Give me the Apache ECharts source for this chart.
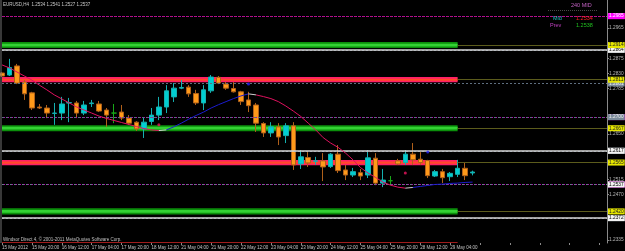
<!DOCTYPE html>
<html><head><meta charset="utf-8">
<script src="https://cdn.jsdelivr.net/npm/echarts@6/dist/echarts.min.js"></script>
<style>html,body{margin:0;padding:0;background:#000}#c{width:625px;height:251px}</style>
</head><body><div id="c"></div>
<script>
// ---- data ----
const xTickLabels = ['15 May 2012','15 May 20:00','16 May 12:00','17 May 04:00','17 May 20:00','18 May 12:00','21 May 04:00','21 May 20:00','22 May 12:00','23 May 04:00','23 May 20:00','24 May 12:00','25 May 04:00','25 May 20:00','28 May 12:00','29 May 04:00'];
const openP  = [1.2831,1.2825,1.2852,1.2804,1.2772,1.2730,1.2727,1.2711,1.2712,1.2742,1.2742,1.2712,1.2740,1.2739,1.2721,1.2712,1.2715,1.2697,1.2685,1.2665,1.2687,1.2706,1.2730,1.2760,1.2786,1.2789,1.2770,1.2742,1.2778,1.2818,1.2798,1.2785,1.2775,1.2751,1.2736,1.2681,1.2653,1.2671,1.2645,1.2674,1.2561,1.2580,1.2569,1.2570,1.2553,1.2590,1.2543,1.2528,1.2535,1.2528,1.2578,1.2504,1.2511,1.2570,1.2565,1.2590,1.2575,1.2571,1.2525,1.2538,1.2523,1.2530,1.2548,1.2534];
const closeP = [1.2822,1.2847,1.2801,1.2769,1.2727,1.2727,1.2712,1.2712,1.2739,1.2743,1.2712,1.2736,1.2742,1.2718,1.2706,1.2712,1.2697,1.2682,1.2665,1.2685,1.2706,1.2730,1.2778,1.2786,1.2788,1.2769,1.2742,1.2781,1.2819,1.2801,1.2786,1.2775,1.2746,1.2734,1.2682,1.2653,1.2671,1.2641,1.2674,1.2558,1.2582,1.2564,1.2570,1.2552,1.2590,1.2541,1.2528,1.2538,1.2525,1.2579,1.2504,1.2513,1.2511,1.2561,1.2590,1.2573,1.2565,1.2526,1.2538,1.2520,1.2533,1.2548,1.2526,1.2537];
const lowP   = [1.2819,1.2822,1.2798,1.2751,1.2721,1.2724,1.2697,1.2677,1.2691,1.2685,1.2697,1.2706,1.2730,1.2715,1.2671,1.2682,1.2691,1.2677,1.2659,1.2638,1.2677,1.2691,1.2712,1.2745,1.2783,1.2760,1.2736,1.2721,1.2772,1.2798,1.2781,1.2773,1.2736,1.2715,1.2656,1.2641,1.2641,1.2617,1.2623,1.2543,1.2546,1.2552,1.2558,1.2510,1.2549,1.2534,1.2513,1.2522,1.2513,1.2519,1.2498,1.2492,1.2498,1.2558,1.2558,1.2558,1.2558,1.2519,1.2522,1.2504,1.2510,1.2522,1.2513,1.2527];
const highP  = [1.2834,1.2873,1.2858,1.2810,1.2775,1.2739,1.2736,1.2742,1.2760,1.2757,1.2748,1.2748,1.2751,1.2748,1.2727,1.2739,1.2736,1.2706,1.2688,1.2700,1.2727,1.2760,1.2795,1.2801,1.2810,1.2795,1.2781,1.2795,1.2825,1.2822,1.2804,1.2804,1.2778,1.2775,1.2742,1.2685,1.2685,1.2682,1.2682,1.2685,1.2602,1.2596,1.2582,1.2593,1.2593,1.2617,1.2558,1.2549,1.2546,1.2602,1.2593,1.2546,1.2525,1.2576,1.2602,1.2623,1.2596,1.2573,1.2543,1.2546,1.2537,1.2573,1.2564,1.2541];
const trendLine = [1.2855,1.2846,1.2834,1.2822,1.2810,1.2795,1.2781,1.2766,1.2754,1.2742,1.2730,1.2721,1.2712,1.2703,1.2696,1.2690,1.2684,1.2678,1.2672,1.2666,1.2662,1.2660,1.2662,1.2671,1.2682,1.2694,1.2705,1.2715,1.2727,1.2737,1.2746,1.2755,1.2763,1.2769,1.2766,1.2761,1.2755,1.2746,1.2733,1.2718,1.2702,1.2682,1.2662,1.2639,1.2623,1.2610,1.2593,1.2573,1.2550,1.2534,1.2521,1.2507,1.2498,1.2492,1.2489,1.2491,1.2494,1.2497,1.2500,1.2501,1.2503,1.2504,1.2506,1.2507];
const trendSegments = [[0,21,'down'],[22,33,'up'],[34,54,'down'],[55,63,'up']];
const signalBars = [21,33,54,57];
const signalValues = [1.2677,1.2798,1.2534,1.2596];
const signalDirs = ['up','down','up','down'];
const yTickValues = [1.2335,1.2470,1.2515,1.2650,1.2785,1.2830,1.2875,1.2965];
const whiteLevels = [1.2864,1.2617,1.2372];
const magentaLevels = [1.2985,1.2739,1.2493];
const greyLevels = [1.2902,1.2801,1.2700,1.2599,1.2498,1.2397];
const redDottedLevels = [1.3003];
const bidLevel = 1.2537;
const redBands = [1.2811,1.2565];
const greenBands = [1.2914,1.2667,1.2420];
const bottomLevels = [1.2329];
const bandEndBar = 61;
const totalSlots = 82;
const yMin = 1.23261, yMax = 1.30478;
const midValue = 1.2534, prevValue = 1.2538;

// ---- build ----
const FF = 'Liberation Sans';
const cats = Array.from({length: totalSlots}, (_, i) => String(i));
const candles = openP.map((o, i) => [o, closeP[i], lowP[i], highP[i]]);
function lab(v, bg, fg) {
  return {show: true, position: 'end', distance: 1, formatter: v.toFixed(4), backgroundColor: bg, color: fg,
    fontSize: 4.8, fontFamily: FF, padding: [1, 1, 0, 1], lineHeight: 5};
}
function hLine(v, color, type, width, bg, fg, show) {
  return {yAxis: v, lineStyle: {color: color, type: type, width: width}, label: show ? lab(v, bg, fg) : {show: false}};
}
const mlData = [];
redDottedLevels.forEach(v => mlData.push(hLine(v, '#b0304a', [2, 2], 1, '#ff3399', '#ffffff', true)));
magentaLevels.forEach(v => mlData.push(hLine(v, '#b000b0', [1, 1], 1, '#ff00ff', '#ffffff', true)));
greyLevels.forEach(v => {
  const hidden = magentaLevels.some(m => Math.abs(m - v) < 0.0008);
  mlData.push(hLine(v, '#5e6e80', [2, 2], 1, '#7a8a9a', '#f0f0f0', !hidden));
});
whiteLevels.forEach(v => mlData.push(hLine(v, '#d8d8d8', 'solid', 1.5, '#f4f4f4', '#000000', true)));
mlData.push(hLine(bidLevel, '#6a7a8a', [2, 2], 1, '#f4f4f4', '#000000', true));
redBands.concat(greenBands).forEach(v => mlData.push([
  {coord: [bandEndBar, v], lineStyle: {color: '#5c5c1c', width: 1, type: 'solid'}, label: lab(v, '#e6e600', '#202020')},
  {coord: [totalSlots - 1, v]}
]));
bottomLevels.forEach(v => mlData.push([
  {coord: [0, v], lineStyle: {color: '#a01c1c', width: 1, type: 'solid'}, label: {show: false}},
  {coord: [bandEndBar, v]}
]));
const maData = [];
function band(v, h, color) { return [{yAxis: v - h, itemStyle: {color: color, opacity: 1}}, {xAxis: bandEndBar, yAxis: v + h}]; }
redBands.forEach(v => { maData.push(band(v, 0.00078, '#ff1f66')); maData.push(band(v, 0.00032, '#ff4a2a')); });
greenBands.forEach(v => { maData.push(band(v, 0.0009, '#0b8f0b')); maData.push(band(v, 0.0004, '#33d233')); });

function segSeries(dir) {
  return trendLine.map((v, i) => trendSegments.some(s => s[2] === dir && i >= s[0] && i <= s[1]) ? v : null);
}
const transData = trendLine.map((v, i) => trendSegments.some((s, k) => k > 0 && (i === s[0] || i === trendSegments[k - 1][1])) ? v : null);

const chart = echarts.init(document.getElementById('c'), null, {renderer: 'canvas'});
chart.setOption({
  animation: false,
  backgroundColor: '#000000',
  grid: {left: 2, right: 18, top: 0, bottom: 8, outerBoundsMode: 'none'},
  xAxis: {
    type: 'category', data: cats, boundaryGap: false,
    axisLine: {show: false},
    axisTick: {show: true, interval: 3, length: 2, lineStyle: {color: '#8a8a8a'}},
    axisLabel: {interval: 3, align: 'left', margin: 2.5, fontSize: 4.5, fontFamily: FF, color: '#c4c4c4',
      formatter: (val, idx) => (idx % 4 === 0 && xTickLabels[idx / 4]) ? xTickLabels[idx / 4] : ''},
    splitLine: {show: false}
  },
  yAxis: {
    type: 'value', position: 'right', min: yMin, max: yMax,
    axisLine: {show: true, lineStyle: {color: '#8a8a8a'}},
    axisTick: {show: true, length: 2, customValues: yTickValues, lineStyle: {color: '#8a8a8a'}},
    axisLabel: {customValues: yTickValues, formatter: v => v.toFixed(4), margin: 2, fontSize: 4.8, fontFamily: FF, color: '#b8b8b8'},
    splitLine: {show: false}
  },
  series: [
    {
      type: 'candlestick', data: candles, barWidth: 5, z: 3,
      itemStyle: {color: '#00ced1', color0: '#ff9a1a', borderColor: '#14b0b0', borderColor0: '#b0601a', borderColorDoji: '#18a818', borderWidth: 1},
      emphasis: {disabled: true},
      markArea: {silent: true, z: 1, data: maData},
      markLine: {silent: true, symbol: ['none', 'none'], z: 5, data: mlData, emphasis: {disabled: true}}
    },
    {type: 'line', data: segSeries('down'), symbol: 'none', lineStyle: {color: '#e0115f', width: 1}, z: 6, emphasis: {disabled: true}},
    {type: 'line', data: segSeries('up'), symbol: 'none', lineStyle: {color: '#1c1cd0', width: 1}, z: 6, emphasis: {disabled: true}},
    {type: 'line', data: transData, symbol: 'none', lineStyle: {color: '#d0d0d0', width: 1}, z: 6, emphasis: {disabled: true}},
    {type: 'scatter', data: signalBars.map((b, i) => ({value: [b, signalValues[i]], itemStyle: {color: signalDirs[i] === 'up' ? '#ee1560' : '#2424ff'}})),
      symbolSize: 3, z: 7, emphasis: {disabled: true}}
  ],
  graphic: [
    {type: 'line', shape: {x1: 1, y1: 0, x2: 1, y2: 243}, style: {stroke: '#707070', lineWidth: 1}, z: 10},
    {type: 'text', left: 3, top: 2.5, style: {text: 'EURUSD,H4  ' + openP[63].toFixed(4) + ' ' + highP[63].toFixed(4) + ' ' + lowP[63].toFixed(4) + ' ' + closeP[63].toFixed(4), fill: '#c8c8c8', fontSize: 4.5, fontFamily: FF}, z: 10},
    {type: 'text', left: 571, top: 2, style: {text: '240 MID', fill: '#c060c0', fontSize: 5.5, fontFamily: FF}, z: 10},
    {type: 'line', shape: {x1: 548, y1: 10.5, x2: 597, y2: 10.5}, style: {stroke: '#4a4a4a', lineWidth: 1, lineDash: [1, 1]}, z: 10},
    {type: 'text', left: 553, top: 15, style: {text: 'Mid', fill: '#20c0c0', fontSize: 5.5, fontFamily: FF}, z: 10},
    {type: 'text', left: 576, top: 15, style: {text: midValue.toFixed(4), fill: '#ff2020', fontSize: 5.5, fontFamily: FF}, z: 10},
    {type: 'text', left: 550, top: 22, style: {text: 'Prev', fill: '#c040c0', fontSize: 5.5, fontFamily: FF}, z: 10},
    {type: 'text', left: 576, top: 22, style: {text: prevValue.toFixed(4), fill: '#20c020', fontSize: 5.5, fontFamily: FF}, z: 10},
    {type: 'text', left: 3, top: 237, style: {text: 'Windsor Direct 4, © 2001-2011 MetaQuotes Software Corp.', fill: '#c0c0c0', fontSize: 4.5, fontFamily: FF}, z: 10}
  ]
});
</script></body></html>
